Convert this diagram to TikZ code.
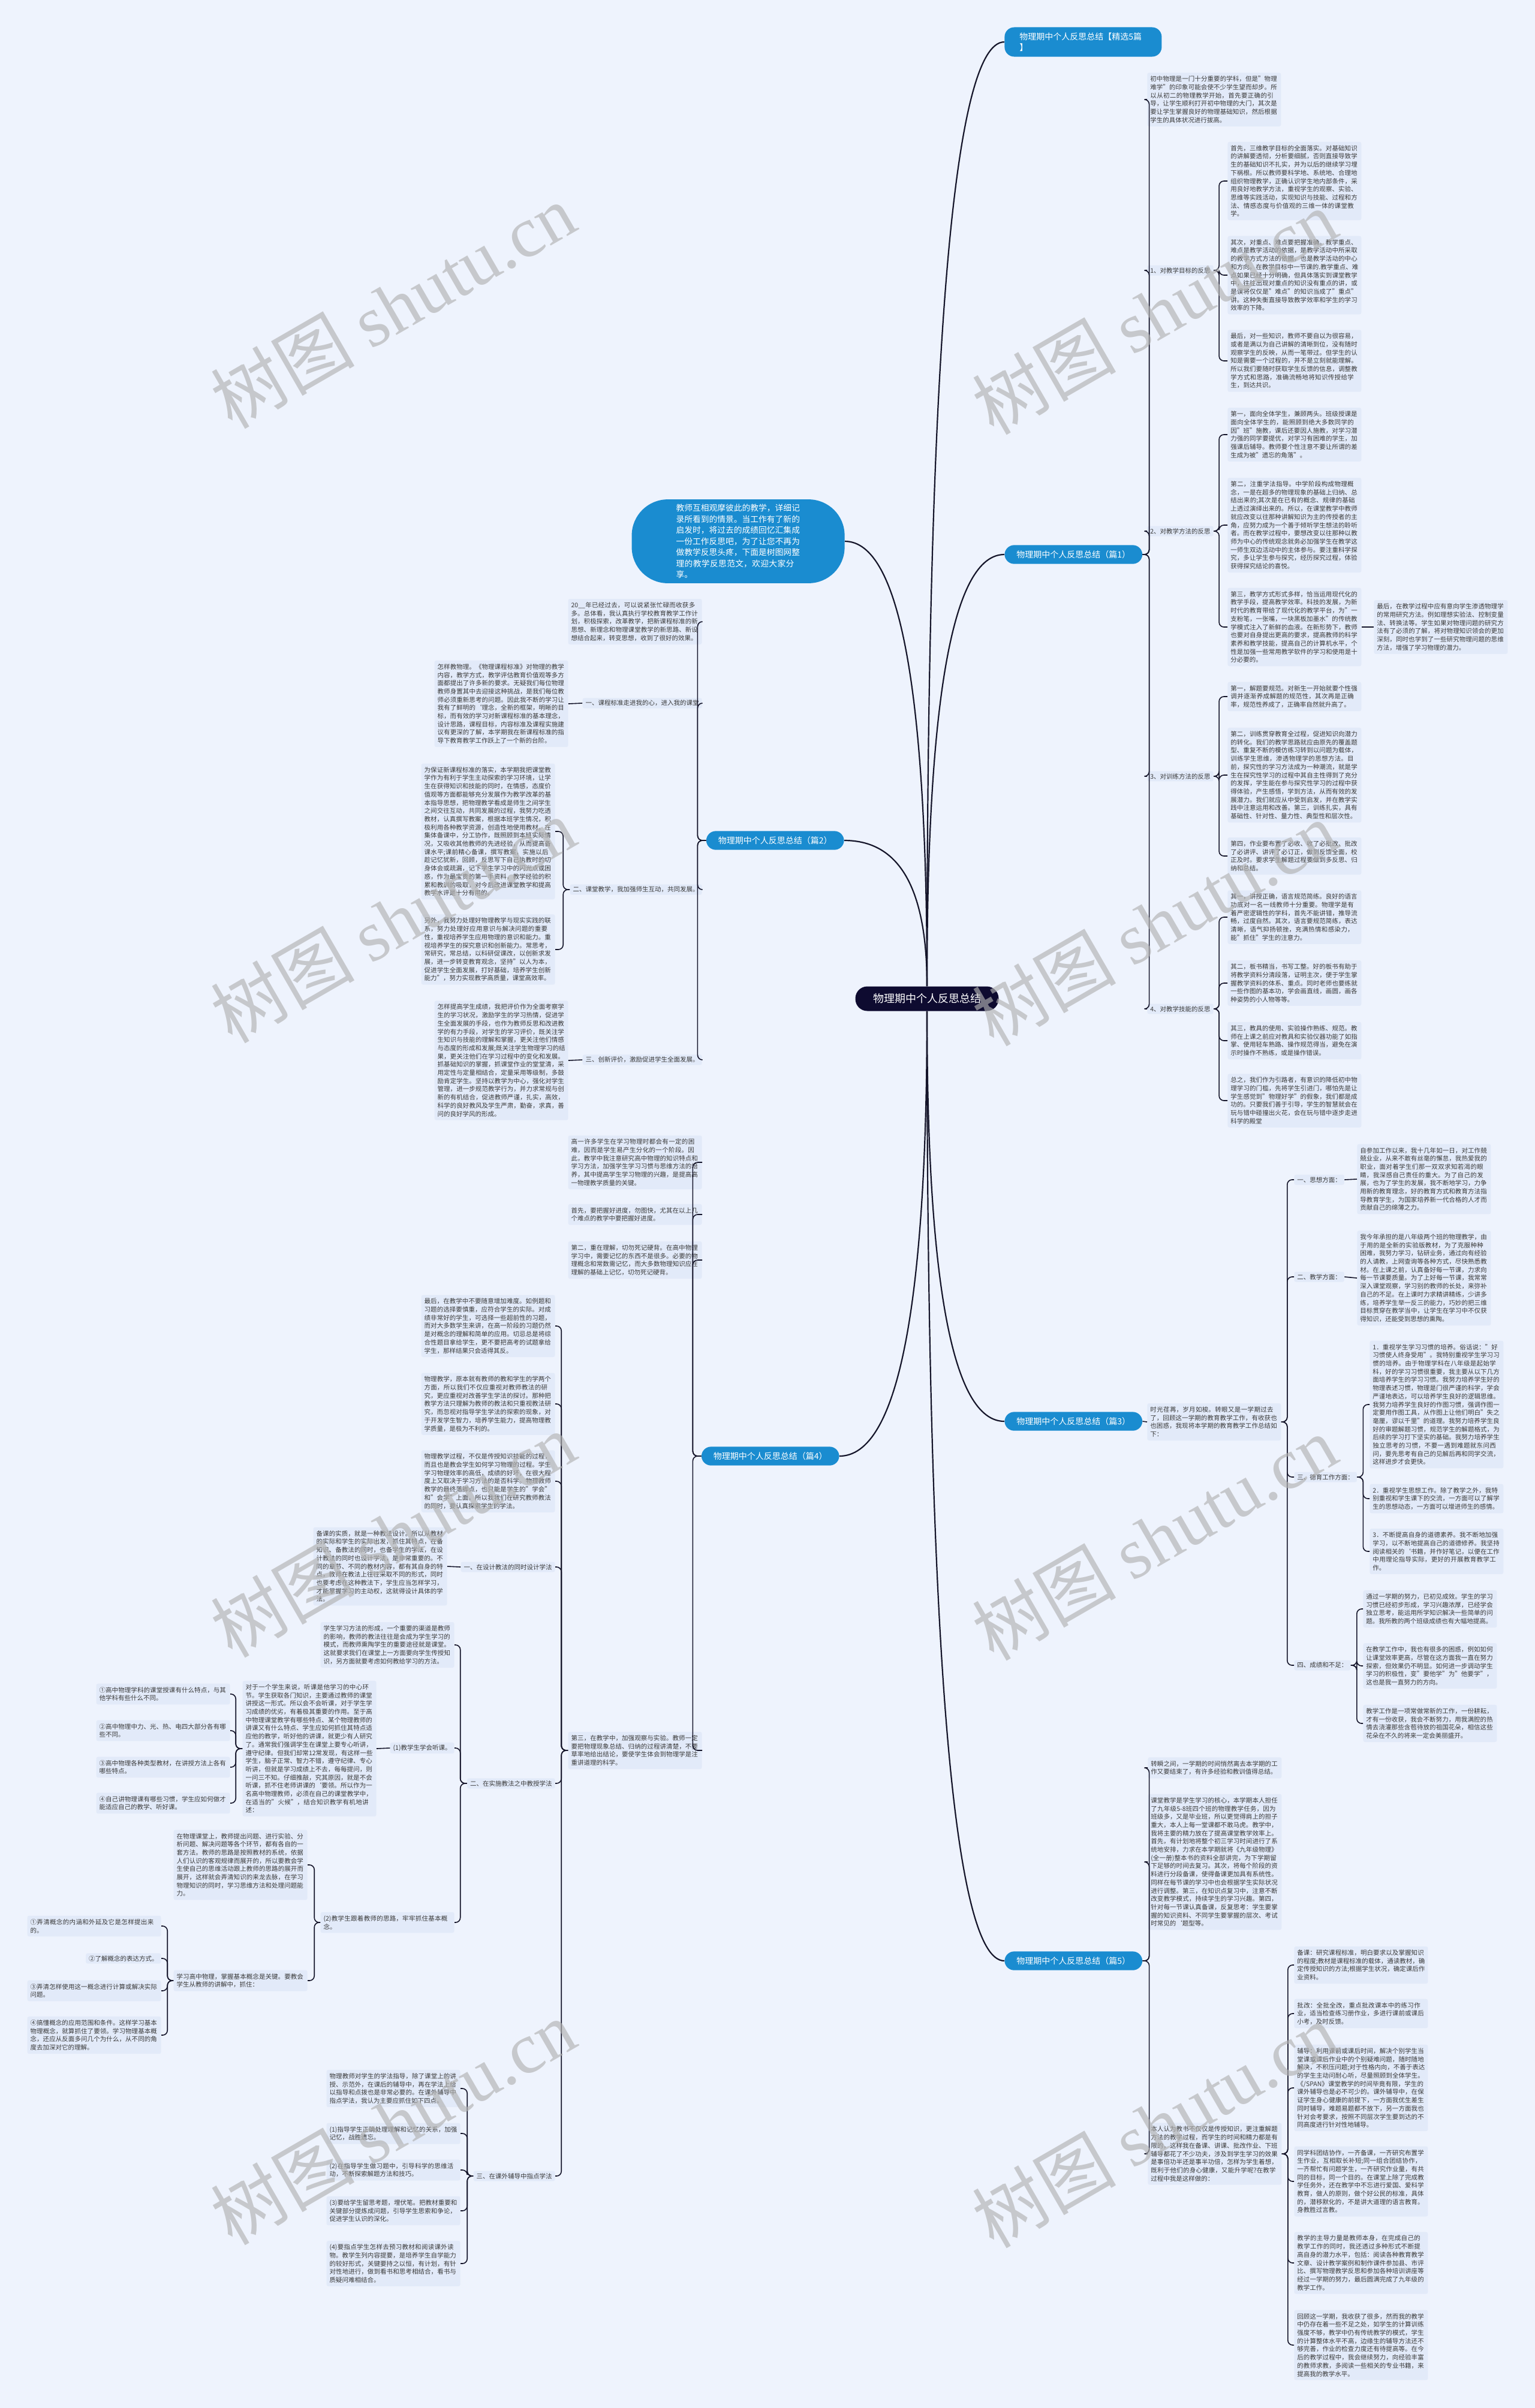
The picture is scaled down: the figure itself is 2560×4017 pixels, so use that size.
\documentclass[tikz,border=0pt]{standalone}
\usepackage{fontspec}
\setmainfont{Noto Sans CJK SC}
\newfontfamily\wmserif{Liberation Serif}
\XeTeXlinebreaklocale "zh"
\XeTeXlinebreakskip=0pt plus 0.5pt
\definecolor{pagebg}{HTML}{EEF3FD}
\definecolor{boxbg}{HTML}{E2EAF9}
\definecolor{topicblue}{HTML}{1A8CD0}
\definecolor{rootnavy}{HTML}{0E0B30}
\definecolor{inktxt}{HTML}{3A3A3A}
\definecolor{linkc}{HTML}{15152A}
\tikzset{
  para/.style={fill=boxbg, text=inktxt, text width=106.5pt, align=left,
    font=\fontsize{5.25}{6.85}\selectfont, inner xsep=2.5pt, inner ysep=2.8pt, rounded corners=1.5pt},
  lab/.style={fill=boxbg, text=inktxt, font=\fontsize{5.25}{6.85}\selectfont,
    inner xsep=2.5pt, inner ysep=1.8pt, rounded corners=1.5pt},
  topic/.style={fill=topicblue, text=white, font=\fontsize{7}{9}\selectfont,
    inner xsep=10pt, inner ysep=4.5pt, rounded corners=8pt, align=left},
  rootbox/.style={fill=rootnavy, text=white, font=\fontsize{9}{11}\selectfont,
    inner xsep=14.75pt, minimum height=20.5pt, rounded corners=10pt},
  intro/.style={fill=topicblue, text=white, text width=103.5pt, align=left,
    font=\fontsize{6.87}{9.25}\selectfont, inner xsep=37pt, inner ysep=4pt, rounded corners=30pt},
  link/.style={draw=linkc, line width=0.8pt, rounded corners=4pt},
  trunk/.style={draw=linkc, line width=1.1pt},
  wmark/.style={text=gray!60, opacity=0.65, rotate=30, font=\fontsize{60}{60}\selectfont}
}
\begin{document}
\begin{tikzpicture}[x=0.5pt,y=-0.5pt]
  \fill[pagebg] (0,0) rectangle (2560,4017);
  \useasboundingbox (0,0) rectangle (2560,4017);

  % centre and the six first-level topics
  \node[rootbox] (root) at (1546,1666) {物理期中个人反思总结};
  \node[topic, anchor=west, text width=106pt, inner xsep=12.5pt] (top5) at (1675,70) {物理期中个人反思总结【精选5篇\\】};
  \node[topic, anchor=west] (p1) at (1675,925) {物理期中个人反思总结（篇1）};
  \node[topic, anchor=west] (p3) at (1675,2371) {物理期中个人反思总结（篇3）};
  \node[topic, anchor=west] (p5) at (1675,3271) {物理期中个人反思总结（篇5）};
  \node[intro, anchor=east] (intro) at (1409,903) {教师互相观摩彼此的教学，详细记录所看到的情景。当工作有了新的启发时，将过去的成绩回忆汇集成一份工作反思吧，为了让您不再为做教学反思头疼，下面是树图网整理的教学反思范文，欢迎大家分享。};
  \node[topic, anchor=east] (p2) at (1408,1402) {物理期中个人反思总结（篇2）};
  \node[topic, anchor=east] (p4) at (1400,2429) {物理期中个人反思总结（篇4）};

  % 篇1
  \node[para, anchor=west] (p1a) at (1913,166) {初中物理是一门十分重要的学科，但是"物理难学"的印象可能会使不少学生望而却步。所以从初二的物理教学开始，首先要正确的引导，让学生顺利打开初中物理的大门，其次是要让学生掌握良好的物理基础知识，然后根据学生的具体状况进行拔高。};
  \node[lab, anchor=west] (s11) at (1913,451) {1、对教学目标的反思};
  \node[para, anchor=west] (s11a) at (2047,302) {首先，三维教学目标的全面落实。对基础知识的讲解要透彻，分析要细腻，否则直接导致学生的基础知识不扎实，并为以后的继续学习埋下祸根。所以教师要科学地、系统地、合理地组织物理教学，正确认识学生地内部条件，采用良好地教学方法，重视学生的观察、实验、思维等实践活动，实现知识与技能、过程和方法、情感态度与价值观的三维一体的课堂教学。};
  \node[para, anchor=west] (s11b) at (2047,459) {其次，对重点、难点要把握准确。教学重点、难点是教学活动的依据，是教学活动中所采取的教学方式方法的依据，也是教学活动的中心和方向。在教学目标中一节课的.教学重点、难点如果已经十分明确，但具体落实到课堂教学中，往往出现对重点的知识没有重点的讲，或是误将仅仅是"难点"的知识当成了"重点"讲。这种失衡直接导致教学效率和学生的学习效率的下降。};
  \node[para, anchor=west] (s11c) at (2047,602) {最后，对一些知识，教师不要自以为很容易，或者是满以为自己讲解的清晰到位，没有随时观察学生的反映，从而一笔带过。但学生的认知是需要一个过程的，并不是立刻就能理解。所以我们要随时获取学生反馈的信息，调整教学方式和思路，准确流畅地将知识传授给学生，到达共识。};
  \node[lab, anchor=west] (s12) at (1913,886) {2、对教学方法的反思};
  \node[para, anchor=west] (s12a) at (2047,725) {第一，面向全体学生，兼顾两头。班级授课是面向全体学生的，能照顾到绝大多数同学的因"班"施教，课后还要因人施教，对学习潜力强的同学要提优，对学习有困难的学生，加强课后辅导。教师要个性注意不要让所谓的差生成为被"遗忘的角落"。};
  \node[para, anchor=west] (s12b) at (2047,876) {第二，注重学法指导。中学阶段构成物理概念，一是在超多的物理现象的基础上归纳、总结出来的;其次是在已有的概念、规律的基础上透过演绎出来的。所以，在课堂教学中教师就应改变以往那种讲解知识为主的传授者的主角，应努力成为一个善于倾听学生想法的聆听者。而在教学过程中，要想改变以往那种以教师为中心的传统观念就务必加强学生在教学这一师生双边活动中的主体参与。要注重科学探究，多让学生参与探究，经历探究过程，体验获得探究结论的喜悦。};
  \node[para, anchor=west] (s12c) at (2047,1046) {第三，教学方式形式多样，恰当运用现代化的教学手段，提高教学效率。科技的发展，为新时代的教育带给了现代化的教学平台，为"一支粉笔，一张嘴，一块黑板加墨水"的传统教学模式注入了新鲜的血液。在新形势下，教师也要对自身提出更高的要求，提高教师的科学素养和教学技能，提高自己的计算机水平，个性是加强一些常用教学软件的学习和使用是十分必要的。};
  \node[para, anchor=west] (s12d) at (2291,1046) {最后，在教学过程中应有意向学生渗透物理学的常用研究方法。例如理想实验法、控制变量法、转换法等。学生如果对物理问题的研究方法有了必须的了解，将对物理知识领会的更加深刻，同时也学到了一些研究物理问题的思维方法，增强了学习物理的潜力。};
  \node[lab, anchor=west] (s13) at (1913,1295) {3、对训练方法的反思};
  \node[para, anchor=west] (s13a) at (2047,1162) {第一，解题要规范。对新生一开始就要个性强调并逐渐养成解题的规范性，其次再是正确率，规范性养成了，正确率自然就升高了。};
  \node[para, anchor=west] (s13b) at (2047,1293) {第二，训练贯穿教育全过程，促进知识向潜力的转化。我们的教学思路就应由原先的覆盖题型、重复不断的模仿练习转到以问题为载体，训练学生思维，渗透物理学的思想方法。目前，探究性的学习方法成为一种潮流，就是学生在探究性学习的过程中其自主性得到了充分的发挥，学生能在参与探究性学习的过程中获得体验，产生感悟，学到方法，从而有效的发展潜力。我们就应从中受到启发，并在教学实践中注意运用和改善。第三，训练扎实，具有基础性、针对性、量力性、典型性和层次性。};
  \node[para, anchor=west] (s13c) at (2047,1428) {第四，作业要布置了必收、收了必批改、批改了必讲评、讲评了必订正，做到反馈全面，校正及时。要求学生解题过程要做到多反思、归纳和总结。};
  \node[lab, anchor=west] (s14) at (1913,1683) {4、对教学技能的反思};
  \node[para, anchor=west] (s14a) at (2047,1530) {其一，讲授正确，语言规范简练。良好的语言功底对一名一线教师十分重要。物理学是有着严密逻辑性的学科，首先不能讲错，推导流畅，过度自然。其次，语言要规范简练，表达清晰，语气抑扬顿挫，充满热情和感染力，能"抓住"学生的注意力。};
  \node[para, anchor=west] (s14b) at (2047,1640) {其二，板书精当，书写工整。好的板书有助于将教学资料分清段落，证明主次，便于学生掌握教学资料的体系、重点。同时老师也要练就一些作图的基本功，学会画直线，画圆，画各种姿势的小人物等等。};
  \node[para, anchor=west] (s14c) at (2047,1736) {其三，教具的使用、实验操作熟练、规范。教师在上课之前应对教具和实验仪器功能了如指掌、使用轻车熟路、操作规范得当，避免在演示时操作不熟练，或是操作错误。};
  \node[para, anchor=west] (s14d) at (2047,1836) {总之，我们作为引路者，有意识的降低初中物理学习的门槛，先将学生引进门，哪怕先是让学生感觉到"物理好学"的假象，我们都是成功的。只要我们善于引导，学生的智慧就会在玩与错中碰撞出火花，会在玩与错中逐步走进科学的殿堂};

  % 篇3
  \node[para, anchor=west] (p3a) at (1913,2372) {时光荏苒，岁月如梭。转眼又是一学期过去了，回顾这一学期的教育教学工作，有收获也也困惑，我现将本学期的教育教学工作总结如下：};
  \node[lab, anchor=west] (s31) at (2158,1968) {一、思想方面：};
  \node[para, anchor=west] (s31a) at (2263,1967) {自参加工作以来，我十几年如一日，对工作兢兢业业，从来不敢有丝毫的懈怠，我热爱我的职业，面对着学生们那一双双求知若渴的眼睛，我深感自己责任的重大。为了自己的发展，也为了学生的发展，我不断地学习，力争用新的教育理念，好的教育方式和教育方法指导教育学生，为国家培养新一代合格的人才而贡献自己的绵薄之力。};
  \node[lab, anchor=west] (s32) at (2158,2130) {二、教学方面：};
  \node[para, anchor=west] (s32a) at (2263,2132) {我今年承担的是八年级两个班的物理教学，由于用的是全新的实验版教材，为了克服种种困难，我努力学习，钻研业务，通过向有经验的人请教，上网查询等各种方式，尽快熟悉教材。在上课之前，认真备好每一节课，力求向每一节课要质量。为了上好每一节课，我常常深入课堂观察，学习别的教师的长处，来弥补自己的不足。在上课时力求精讲精练，少讲多练，培养学生举一反三的能力，巧妙的把三维目标贯穿在教学当中，让学生在学习中不仅获得知识，还能受到思想的熏陶。};
  \node[lab, anchor=west] (s33) at (2158,2464) {三、德育工作方面：};
  \node[para, anchor=west] (s33a) at (2284,2343) {1．重视学生学习习惯的培养。俗话说："好习惯使人终身受用"。我特别重视学生学习习惯的培养。由于物理学科在八年级是起始学科，好的学习习惯很重要，我主要从以下几方面培养学生的学习习惯。我努力培养学生好的物理表述习惯，物理是门很严谨的科学，学会严谨地表达，可以培养学生良好的逻辑思维。我努力培养学生良好的作图习惯，强调作图一定要用作图工具，从作图上让他们明白"失之毫厘，谬以千里"的道理。我努力培养学生良好的审题解题习惯，规范学生的解题格式，为后续的学习打下坚实的基础。我努力培养学生独立思考的习惯，不要一遇到难题就东问西问，要先思考有自己的见解后再和同学交流，这样进步才会更快。};
  \node[para, anchor=west] (s33b) at (2284,2500) {2．重视学生思想工作。除了教学之外，我特别重视和学生课下的交流，一方面可以了解学生的思想动态，一方面可以增进师生的感情。};
  \node[para, anchor=west] (s33c) at (2284,2588) {3．不断提高自身的道德素养。我不断地加强学习，以不断地提高自己的道德修养。我坚持阅读相关的`书籍，并作好笔记，以便在工作中用理论指导实际，更好的开展教育教学工作。};
  \node[lab, anchor=west] (s34) at (2158,2778) {四、成绩和不足：};
  \node[para, anchor=west] (s34a) at (2273,2684) {通过一学期的努力，已初见成效。学生的学习习惯已经初步形成，学习兴趣浓厚，已经学会独立思考，能运用所学知识解决一些简单的问题。我所教的两个班级成绩也有大幅地提高。};
  \node[para, anchor=west] (s34b) at (2273,2779) {在教学工作中，我也有很多的困惑，例如如何让课堂效率更高，尽管在这方面我一直在努力探索，但效果仍不明显。如何进一步调动学生学习的积极性，变"要他学"为"他要学"，这也是我一直努力的方向。};
  \node[para, anchor=west] (s34c) at (2273,2875) {教学工作是一项常做常新的工作，一份耕耘，才有一份收获，我会不断努力，用我满腔的热情去浇灌那些含苞待放的祖国花朵，相信这些花朵在不久的将来一定会美丽盛开。};

  % 篇5
  \node[para, anchor=west] (p5a) at (1914,2949) {转瞬之间，一学期的时间悄然离去本学期的工作又要结束了，有许多经验和教训值得总结。};
  \node[para, anchor=west] (p5b) at (1914,3106) {课堂教学是学生学习的核心，本学期本人担任了九年级5-8班四个班的物理教学任务，因为班级多，又是毕业班，所以更觉得肩上的担子重大，本人上每一堂课都不敢马虎。教学中，我将主要的精力放在了提高课堂教学效率上。首先，有计划地将整个初三学习时间进行了系统地安排，力求在本学期就将《九年级物理》(全一册)整本书的资料全部讲完，为下学期留下足够的时间去复习。其次，将每个阶段的资料进行分段备课，使得备课更加具有系统性。同样在每节课的学习中也会根据学生实际状况进行调整。第三，在知识点复习中，注意不断改变教学模式，持续学生的学习兴趣。第四，针对每一节课认真备课，反复思考：学生要掌握的知识资料、不同学生要掌握的层次、考试时常见的`题型等。};
  \node[para, anchor=west] (p5c) at (1914,3593) {本人认为教书不仅仅是传授知识，更注重解题方法的教学过程，而学生的时间和精力都是有限的，这样我在备课、讲课、批改作业、下班辅导都花了不少功夫，涉及到学生学习的效果是事倍功半还是事半功倍，怎样为学生着想，既利于他们的身心健康，又能升学呢?在教学过程中我是这样做的：};
  \node[para, anchor=west] (p5c1) at (2158,3278) {备课：研究课程标准，明白要求以及掌握知识的程度;教材是课程标准的载体，通读教材，确定传授知识的方法;根据学生状况，确定课后作业资料。};
  \node[para, anchor=west] (p5c2) at (2158,3359) {批改：全批全改，重点批改课本中的练习作业，适当检查练习册作业，多进行课前或课后小考，及时反馈。};
  \node[para, anchor=west] (p5c3) at (2158,3483) {辅导：利用课前或课后时间，解决个别学生当堂课或课后作业中的个别疑难问题，随时随地解决，不积压问题;对于性格内向，不善于表达的学生主动问耐心听，尽量照顾到全体学生。《/SPAN》课堂教学的时间毕竟有限，学生的课外辅导也是必不可少的。课外辅导中，在保证学生身心健康的前提下，一方面我优生差生同时辅导，难题易题都不放下，另一方面我也针对会考要求，按照不同层次学生要到达的不同高度进行针对性地辅导。};
  \node[para, anchor=west] (p5c4) at (2158,3639) {同学科团结协作，一齐备课，一齐研究布置学生作业，互相取长补短;同一组合团结协作，一齐帮忙有问题学生，一齐研究作业量，有共同的目标，同一个目的。在课堂上除了完成教学任务外，还在教学中不忘进行爱国、爱科学教育，做人的原则，做个好公民的标准，具体的，潜移默化的，不是讲大道理的语言教育。身教胜过言教。};
  \node[para, anchor=west] (p5c5) at (2158,3775) {教学的主导力量是教师本身，在完成自己的教学工作的同时，我还透过多种形式不断提高自身的潜力水平，包括：阅读各种教育教学文章、设计教学案例和制作课件参加县、市评比、撰写物理教学反思和参加各种培训讲座等经过一学期的努力，最后圆满完成了九年级的教学工作。};
  \node[para, anchor=west] (p5c6) at (2158,3912) {回顾这一学期，我收获了很多，然而我的教学中仍存在着一些不足之处，如学生的计算训练强度不够，教学中仍有传统教学的模式，学生的计算整体水平不高，边缘生的辅导方法还不够完善，作业的检查力度还有待提高等。在今后的教学过程中，我会继续努力，向经验丰富的教师求教，多阅读一些相关的专业书籍，来提高我的教学水平。};

  % 篇2
  \node[para, anchor=east] (p2a) at (1171,1037) {20\_\_年已经过去，可以说紧张忙碌而收获多多。总体看，我认真执行学校教育教学工作计划，积极探索，改革教学，把新课程标准的新思想、新理念和物理课堂教学的新思路、新设想结合起来，转变思想，收到了很好的效果。};
  \node[lab, anchor=east] (s21) at (1171,1173) {一、课程标准走进我的心，进入我的课堂};
  \node[para, anchor=east] (s21a) at (948,1174) {怎样教物理。《物理课程标准》对物理的教学内容，教学方式，教学评估教育价值观等多方面都提出了许多新的要求。无疑我们每位物理教师身置其中去迎接这种挑战，是我们每位教师必须重新思考的问题。因此我不断的学习让我有了鲜明的`理念，全新的框架，明晰的目标，而有效的学习对新课程标准的基本理念，设计思路，课程目标，内容标准及课程实施建议有更深的了解，本学期我在新课程标准的指导下教育教学工作跃上了一个新的台阶。};
  \node[lab, anchor=east] (s22) at (1171,1484) {二、课堂教学，我加强师生互动，共同发展。};
  \node[para, anchor=east] (s22a) at (926,1387) {为保证新课程标准的落实，本学期我把课堂教学作为有利于学生主动探索的学习环境，让学生在获得知识和技能的同时，在情感，态度价值观等方面都能够充分发展作为教学改革的基本指导思想，把物理教学看成是师生之间学生之间交往互动，共同发展的过程，我努力吃透教材，认真撰写教案，根据本班学生情况，积极利用各种教学资源，创造性地使用教材。在集体备课中，分工协作，既照顾到本班实际情况，又吸收其他教师的先进经验，从而提高备课水平;课前精心备课，撰写教案，实施以后趁记忆犹新，回顾，反思写下自己执教时的切身体会或疏漏，记下学生学习中的闪光点或困惑，作为最宝贵的第一手资料，教学经验的积累和教训的吸取，对今后改进课堂教学和提高教学水评是十分有用的。};
  \node[para, anchor=east] (s22b) at (926,1584) {另外，我努力处理好物理教学与现实实践的联系，努力处理好应用意识与解决问题的重要性，重视培养学生应用物理的意识和能力。重视培养学生的探究意识和创新能力。常思考，常研究，常总结，以科研促课改，以创新求发展，进一步转变教育观念，坚持"以人为本，促进学生全面发展，打好基础，培养学生创新能力"，努力实现教学高质量，课堂高效率。};
  \node[lab, anchor=east] (s23) at (1171,1768) {三、创新评价，激励促进学生全面发展。};
  \node[para, anchor=east] (s23a) at (948,1769) {怎样提高学生成绩，我把评价作为全面考察学生的学习状况，激励学生的学习热情，促进学生全面发展的手段，也作为教师反思和改进教学的有力手段，对学生的学习评价，既关注学生知识与技能的理解和掌握，更关注他们情感与态度的形成和发展;既关注学生物理学习的结果，更关注他们在学习过程中的变化和发展。抓基础知识的掌握，抓课堂作业的堂堂清，采用定性与定量相结合，定量采用等级制，多鼓励肯定学生。坚持以教学为中心，强化对学生管理，进一步规范教学行为，并力求常规与创新的有机结合，促进教师严谨，扎实，高效，科学的良好教风及学生严肃，勤奋，求真，善问的良好学风的形成。};

  % 篇4
  \node[para, anchor=east] (p4a) at (1171,1939) {高一许多学生在学习物理时都会有一定的困难，因而是学生易产生分化的一个阶段。因此，教学中我注意研究高中物理的知识特点和学习方法，加强学生学习习惯与思维方法的培养，其中提高学生学习物理的兴趣，是提高高一物理教学质量的关键。};
  \node[para, anchor=east] (p4b) at (1171,2026) {首先，要把握好进度，勿图快，尤其在以上几个难点的教学中要把握好进度。};
  \node[para, anchor=east] (p4c) at (1171,2102) {第二，重在理解，切勿死记硬背。在高中物理学习中，需要记忆的东西不是很多。必要的物理概念和常数需记忆，而大多数物理知识应在理解的基础上记忆，切勿死记硬背。};
  \node[para, anchor=east] (p4d) at (1171,2920) {第三，在教学中，加强观察与实验。教师一定要把物理现象总结、归纳的过程讲清楚，不要草率地给出结论，要使学生体会到物理学是注重讲道理的科学。};
  \node[para, anchor=east] (p4d1) at (926,2212) {最后，在教学中不要随意增加难度。如例题和习题的选择要慎重，应符合学生的实际。对成绩非常好的学生，可选择一些超前性的习题，而对大多数学生来讲，在高一阶段的习题仍然是对概念的理解和简单的应用。切忌总是将综合性题目拿给学生，更不要把高考的试题拿给学生，那样结果只会适得其反。};
  \node[para, anchor=east] (p4d2) at (926,2342) {物理教学，原本就有教师的教和学生的学两个方面，所以我们不仅应重视对教师教法的研究，更应重视对改善学生学法的探讨。那种把教学方法只理解为教师的教法和只重视教法研究，而忽视对指导学生学法的探索的现象，对于开发学生智力，培养学生能力，提高物理教学质量，是极为不利的。};
  \node[para, anchor=east] (p4d3) at (926,2471) {物理教学过程，不仅是传授知识技能的过程，而且也是教会学生如何学习物理的过程。学生学习物理效率的高低，成绩的好坏，在很大程度上又取决于学习方法的是否科学。物理教师教学的最终落脚点，也只能是学生的"学会"和"会学"上面。所以我我们在研究教师教法的同时，要认真探索学生的学法。};
  \node[lab, anchor=east] (s41) at (926,2614) {一、在设计教法的同时设计学法};
  \node[para, anchor=east] (s41a) at (746,2613) {备课的实质，就是一种教法设计。所以从教材的实际和学生的实际出发，抓住其特点，在备知识、备教法的同时，也备学生的学法，在设计教法的同时也设计学法，是非常重要的。不同的章节、不同的教材内容，都有其自身的特点，教师在教法上往往采取不同的形式，同时也要考虑在这种教法下，学生应当怎样学习，才能掌握学习的主动权，这就得设计具体的学法。};
  \node[lab, anchor=east] (s42) at (926,2975) {二、在实施教法之中教授学法};
  \node[para, anchor=east] (s42a) at (758,2744) {学生学习方法的形成，一个重要的渠道是教师的影响，教师的教法往往是会成为学生学习的模式，而教师熏陶学生的重要途径就是课堂。这就要求我们在课堂上一方面要向学生传授知识，另方面就要考虑如何教给学习的方法。};
  \node[lab, anchor=east] (s42b) at (758,2916) {(1)教学生学会听课。};
  \node[para, anchor=east] (s42b1) at (628,2917) {对于一个学生来说，听课是他学习的中心环节。学生获取各门知识，主要通过教师的课堂讲授这一形式。所以会不会听课，对于学生学习成绩的优劣，有着极其重要的作用。至于高中物理课堂教学有哪些特点、某个物理教师的讲课又有什么特点、学生应如何抓住其特点适应他的教学，听好他的讲课，就更少有人研究了。通常我们强调学生在课堂上要专心听讲，遵守纪律。但我们却常12常发现，有这样一些学生，脑子正常、智力不错，遵守纪律、专心听讲，但就是学习成绩上不去，每每提问，则一问三不知。仔细推敲，究其原因，就是不会听课，抓不住老师讲课的`要领。所以作为一名高中物理教师，必须在自己的课堂教学中，在适当的"火候"，结合知识教学有机地讲述：};
  \node[para, anchor=east] (q1) at (384,2826) {①高中物理学科的课堂授课有什么特点，与其他学科有些什么不同。};
  \node[para, anchor=east] (q2) at (384,2887) {②高中物理中力、光、热、电四大部分各有哪些不同。};
  \node[para, anchor=east] (q3) at (384,2948) {③高中物理各种类型教材，在讲授方法上各有哪些特点。};
  \node[para, anchor=east] (q4) at (384,3008) {④自己讲物理课有哪些习惯，学生应如何做才能适应自己的教学、听好课。};
  \node[para, anchor=east] (s42c) at (758,3207) {(2)教学生跟着教师的思路，牢牢抓住基本概念。};
  \node[para, anchor=east] (s42c1) at (513,3111) {在物理课堂上，教师提出问题、进行实验、分析问题、解决问题等各个环节，都有各自的一套方法。教师的思路是按照教材的系统，依据人们认识的客观规律而展开的，所以要教会学生使自己的思维活动跟上教师的思路的展开而展开，这样就会弄清知识的来龙去脉，在学习物理知识的同时，学习思维方法和处理问题能力。};
  \node[para, anchor=east] (s42c2) at (513,3304) {学习高中物理，掌握基本概念是关键。要教会学生从教师的讲解中，抓住：};
  \node[para, anchor=east] (r1) at (269,3213) {①弄清概念的内涵和外延及它是怎样提出来的。};
  \node[lab, anchor=east] (r2) at (269,3267) {②了解概念的表达方式。};
  \node[para, anchor=east] (r3) at (269,3321) {③弄清怎样使用这一概念进行计算或解决实际问题。};
  \node[para, anchor=east] (r4) at (269,3395) {④搞懂概念的应用范围和条件。这样学习基本物理概念，就算抓住了要领。学习物理基本概念，还应从反面多问几个为什么，从不同的角度去加深对它的理解。};
  \node[lab, anchor=east] (s43) at (926,3630) {三、在课外辅导中指点学法};
  \node[para, anchor=east] (s43a) at (768,3484) {物理教师对学生的学法指导，除了课堂上的讲授、示范外，在课后的辅导中，再在学法上给以指导和点拨也是非常必要的。在课外辅导中指点学法，我认为主要应抓住如下四点。};
  \node[para, anchor=east] (s43b) at (768,3559) {(1)指导学生正确处理理解和记忆的关系，加强记忆，战胜遗忘。};
  \node[para, anchor=east] (s43c) at (768,3620) {(2)在指导学生做习题中，引导科学的思维活动，不断探索解题方法和技巧。};
  \node[para, anchor=east] (s43d) at (768,3688) {(3)要给学生留思考题，埋伏笔。把教材重要和关键部分提炼成问题，引导学生思索和争论，促进学生认识的深化。};
  \node[para, anchor=east] (s43e) at (768,3776) {(4)要指点学生怎样去预习教材和阅读课外读物。教学生列内容提要，是培养学生自学能力的较好形式，关键要持之以恒，有计划，有针对性地进行，做到看书和思考相结合，看书与质疑问难相结合。};

  % connectors from the centre
  \draw[trunk] (root.north) .. controls +(0,-1051) and +(-86,0) .. (top5.west);
  \draw[trunk] (root.north) .. controls +(0,-481) and +(-86,0) .. (p1.west);
  \draw[trunk] (root.south) .. controls +(0,456) and +(-86,0) .. (p3.west);
  \draw[trunk] (root.south) .. controls +(0,1056) and +(-86,0) .. (p5.west);
  \draw[trunk] (root.north) .. controls +(0,-495) and +(91,0) .. (intro.east);
  \draw[trunk] (root.north) .. controls +(0,-163) and +(92,0) .. (p2.east);
  \draw[trunk] (root.south) .. controls +(0,495) and +(97,0) .. (p4.east);

  % right-hand brackets
  \foreach \c in {p1a,s11,s12,s13,s14} \draw[link] (p1.east) -- ++(11,0) |- (\c.west);
  \foreach \c in {s11a,s11b,s11c} \draw[link] (s11.east) -- ++(9,0) |- (\c.west);
  \foreach \c in {s12a,s12b,s12c} \draw[link] (s12.east) -- ++(9,0) |- (\c.west);
  \foreach \c in {s13a,s13b,s13c} \draw[link] (s13.east) -- ++(9,0) |- (\c.west);
  \foreach \c in {s14a,s14b,s14c,s14d} \draw[link] (s14.east) -- ++(9,0) |- (\c.west);
  \draw[link] (s12c.east) -- (s12d.west);
  \draw[link] (p3.east) -- (p3a.west);
  \foreach \c in {s31,s32,s33,s34} \draw[link] (p3a.east) -- ++(10,0) |- (\c.west);
  \draw[link] (s31.east) -- (s31a.west);
  \draw[link] (s32.east) -- (s32a.west);
  \foreach \c in {s33a,s33b,s33c} \draw[link] (s33.east) -- ++(10,0) |- (\c.west);
  \foreach \c in {s34a,s34b,s34c} \draw[link] (s34.east) -- ++(10,0) |- (\c.west);
  \foreach \c in {p5a,p5b,p5c} \draw[link] (p5.east) -- ++(11,0) |- (\c.west);
  \foreach \c in {p5c1,p5c2,p5c3,p5c4,p5c5,p5c6} \draw[link] (p5c.east) -- ++(10,0) |- (\c.west);

  % left-hand brackets
  \foreach \c in {p2a,s21,s22,s23} \draw[link] (p2.west) -- ++(-14,0) |- (\c.east);
  \draw[link] (s21.west) -- (s21a.east);
  \foreach \c in {s22a,s22b} \draw[link] (s22.west) -- ++(-11,0) |- (\c.east);
  \draw[link] (s23.west) -- (s23a.east);
  \foreach \c in {p4a,p4b,p4c,p4d} \draw[link] (p4.west) -- ++(-14,0) |- (\c.east);
  \foreach \c in {p4d1,p4d2,p4d3,s41,s42,s43} \draw[link] (p4d.west) -- ++(-11,0) |- (\c.east);
  \draw[link] (s41.west) -- (s41a.east);
  \foreach \c in {s42a,s42b,s42c} \draw[link] (s42.west) -- ++(-11,0) |- (\c.east);
  \draw[link] (s42b.west) -- (s42b1.east);
  \foreach \c in {q1,q2,q3,q4} \draw[link] (s42b1.west) -- ++(-11,0) |- (\c.east);
  \foreach \c in {s42c1,s42c2} \draw[link] (s42c.west) -- ++(-10,0) |- (\c.east);
  \foreach \c in {r1,r2,r3,r4} \draw[link] (s42c2.west) -- ++(-10,0) |- (\c.east);
  \foreach \c in {s43a,s43b,s43c,s43d,s43e} \draw[link] (s43.west) -- ++(-10,0) |- (\c.east);

  % watermarks
  \foreach \wx/\wy [count=\k] in {655/510,1925/520,655/1535,1925/1540,655/2560,1925/2565,655/3540,1925/3545}
    \node[wmark] (wm\k) at (\wx,\wy) {树图 {\wmserif shutu.cn}};
\end{tikzpicture}
\end{document}
